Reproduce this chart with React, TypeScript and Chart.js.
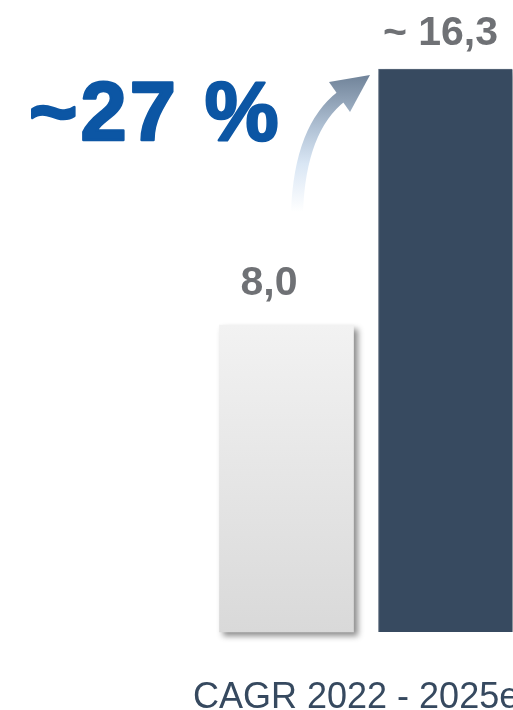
import React, { useEffect, useRef } from 'react';
import { Chart, registerables } from 'chart.js';

Chart.register(...registerables);

const CATEGORIES = ['2022', '2025e'];
const VALUES = [8.0, 16.3];
const VALUE_LABELS = ['8,0', '~ 16,3'];
const CAGR_LABEL = '~27 %';
const AXIS_TITLE = 'CAGR 2022 - 2025e';
const AXIS_MIN = -1.95;
const AXIS_MAX = 16.3;

const W = 513;
const H = 710;

const overlayPlugin = {
  id: 'overlay',
  beforeDatasetDraw(chart: any) {
    const ctx = chart.ctx;
    ctx.save();
    ctx.shadowColor = 'rgba(0,0,0,0.45)';
    ctx.shadowBlur = 6;
    ctx.shadowOffsetX = 4;
    ctx.shadowOffsetY = 4;
  },
  afterDatasetDraw(chart: any) {
    chart.ctx.restore();
  },
  afterDraw(chart: any) {
    const ctx = chart.ctx;
    const meta = chart.getDatasetMeta(0);
    const bars = meta.data;
    ctx.save();
    // value labels
    ctx.fillStyle = '#6f7175';
    ctx.font = 'bold 41px "Liberation Sans", Arial, sans-serif';
    ctx.textAlign = 'center';
    ctx.textBaseline = 'alphabetic';
    const dx = [-17.5, -5];
    const dy = [30, 24];
    bars.forEach((b: any, i: number) => {
      ctx.fillText(VALUE_LABELS[i], b.x + dx[i], b.y - dy[i]);
    });

    // CAGR big label
    ctx.fillStyle = '#0c56a4';
    ctx.strokeStyle = '#0c56a4';
    ctx.lineWidth = 2.5;
    ctx.lineJoin = 'round';
    ctx.font = 'bold 83px "Liberation Sans", Arial, sans-serif';
    ctx.textAlign = 'left';
    try { (ctx as any).letterSpacing = '3px'; } catch (e) {}
    ctx.fillText(CAGR_LABEL, 29, 140);
    ctx.strokeText(CAGR_LABEL, 29, 140);
    try { (ctx as any).letterSpacing = '0px'; } catch (e) {}

    // bottom title
    ctx.fillStyle = '#36495f';
    ctx.font = '36px "Liberation Sans", Arial, sans-serif';
    ctx.fillText(AXIS_TITLE, 193, 708);

    // arrow
    const grad = ctx.createLinearGradient(0, 212, 0, 74);
    grad.addColorStop(0, 'rgba(255,255,255,1)');
    grad.addColorStop(0.35, '#d9e6f4');
    grad.addColorStop(0.6, '#b2c3d6');
    grad.addColorStop(1, '#6f8298');
    ctx.beginPath();
    ctx.moveTo(297, 212);
    ctx.quadraticCurveTo(300, 128, 342, 96);
    ctx.lineWidth = 12;
    ctx.strokeStyle = grad;
    ctx.stroke();
    ctx.beginPath();
    ctx.moveTo(370, 75);
    ctx.lineTo(329, 82);
    ctx.lineTo(350, 112);
    ctx.closePath();
    ctx.fillStyle = grad;
    ctx.fill();
    ctx.restore();
  },
};

export default function App() {
  const ref = useRef<HTMLCanvasElement | null>(null);
  useEffect(() => {
    if (!ref.current) return;
    const chart = new Chart(ref.current, {
      type: 'bar',
      data: {
        labels: CATEGORIES,
        datasets: [
          {
            data: VALUES,
            base: AXIS_MIN,
            barThickness: 134,
            clip: false as any,
            backgroundColor: (c: any) => {
              if (c.dataIndex === 1) return '#374a60';
              const chartObj = c.chart;
              if (!chartObj.chartArea) return '#e6e6e6';
              const ys = chartObj.scales.y;
              const g = chartObj.ctx.createLinearGradient(0, ys.getPixelForValue(VALUES[0]), 0, ys.getPixelForValue(AXIS_MIN));
              g.addColorStop(0, '#f2f2f2');
              g.addColorStop(1, '#d9d9d9');
              return g;
            },
            borderColor: ['rgba(0,0,0,0)', '#5f6f82'],
            borderWidth: [0, { top: 1, left: 1, right: 0, bottom: 0 }] as any,
            borderSkipped: false,
          } as any,
        ],
      },
      options: {
        responsive: false,
        animation: false,
        devicePixelRatio: 1,
        layout: { padding: { left: 286.5, right: 67.5, top: 69, bottom: 78 } },
        plugins: { legend: { display: false }, tooltip: { enabled: false }, title: { display: false } },
        scales: {
          x: { display: false, offset: false, grid: { display: false } },
          y: { display: false, min: AXIS_MIN, max: AXIS_MAX, grid: { display: false } },
        },
      },
      plugins: [overlayPlugin],
    });
    return () => chart.destroy();
  }, []);
  return (
    <div style={{ position: 'absolute', left: 0, top: 0, width: W, height: H, overflow: 'hidden', background: '#fff' }}>
      <canvas ref={ref} width={W} height={H} style={{ display: 'block', width: W, height: H }} />
    </div>
  );
}
